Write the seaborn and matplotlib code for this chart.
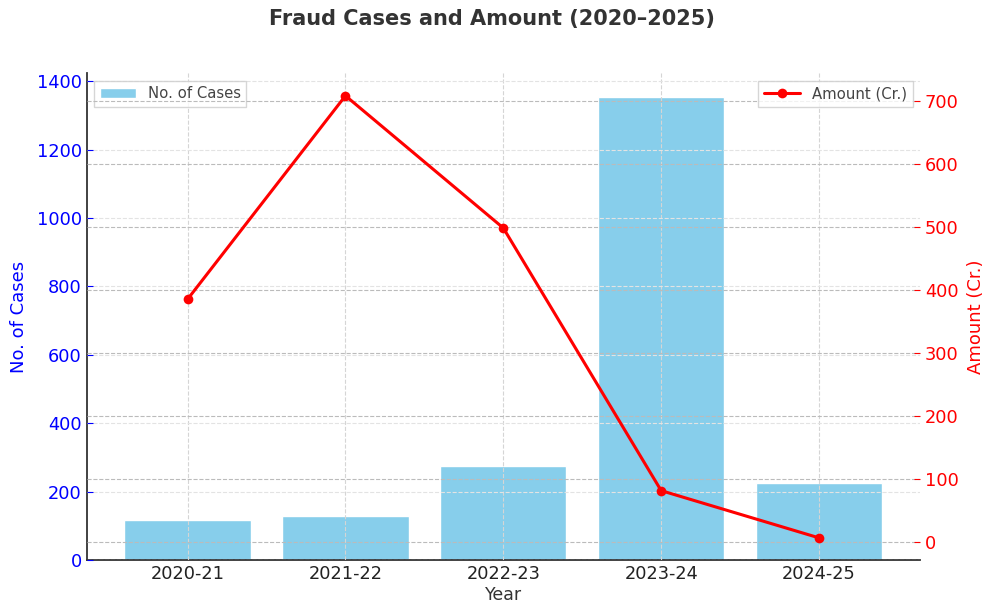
import matplotlib
matplotlib.use("Agg")
import matplotlib.pyplot as plt
import seaborn as sns
import pandas as pd

years = ["2020-21", "2021-22", "2022-23", "2023-24", "2024-25"]
cases = [117, 127, 274, 1355, 224]
amount = [385, 708, 498, 81, 6]

sns.set_style("white")
plt.rcParams["font.family"] = ["DejaVu Sans"]
plt.rcParams["xtick.direction"] = "in"
plt.rcParams["ytick.direction"] = "in"

df = pd.DataFrame({"Year": years, "Cases": cases, "Amount": amount})

fig = plt.figure(figsize=(9.84, 6.04), dpi=100)
ax1 = fig.add_axes([0.088, 0.073, 0.847, 0.806])

sns.barplot(data=df, x="Year", y="Cases", color="#87CEEB", saturation=1,
            width=0.8, ax=ax1, label="No. of Cases", zorder=2)
ax1.set_ylim(0, 1424)
ax1.set_yticks(range(0, 1401, 200))
ax1.set_axisbelow(False)
ax1.grid(axis="y", linestyle="--", color="#e3e3e3", linewidth=0.8)
ax1.grid(axis="x", linestyle="--", color="#d5d5d5", linewidth=0.8)
ax1.set_ylabel("No. of Cases", color="blue", fontsize=13, labelpad=6)
ax1.set_xlabel("Year", fontsize=12.5, color="#333333", labelpad=2)
ax1.tick_params(axis="y", colors="blue", labelsize=12.8, length=4)
ax1.tick_params(axis="x", labelsize=12.8, labelcolor="#222222", color="#333333", length=4)
for s in ["top", "right"]:
    ax1.spines[s].set_visible(False)
for s in ["left", "bottom"]:
    ax1.spines[s].set_color("#333333")
    ax1.spines[s].set_linewidth(1.3)
ax1.legend(loc="upper left", fontsize=10.7, frameon=True, fancybox=False,
           edgecolor="#cccccc", labelcolor="#444444", handlelength=2.4)

ax2 = ax1.twinx()
sns.lineplot(data=df, x="Year", y="Amount", color="red", marker="o",
             markersize=7, markeredgewidth=0, linewidth=2.2, ax=ax2,
             label="Amount (Cr.)")
ax2.set_ylim(-29, 744)
ax2.set_yticks(range(0, 701, 100))
ax2.grid(True, linestyle="--", color="#bbbbbb", linewidth=0.8)
ax2.set_ylabel("Amount (Cr.)", color="red", fontsize=13, labelpad=6)
ax2.tick_params(axis="y", colors="red", labelsize=12.8, length=4)
for s in ["top", "right", "left", "bottom"]:
    ax2.spines[s].set_visible(False)
ax2.legend(loc="upper right", fontsize=10.7, frameon=True, fancybox=False,
           edgecolor="#cccccc", labelcolor="#444444", handlelength=2.4)

fig.suptitle("Fraud Cases and Amount (2020\u20132025)", fontsize=15,
             fontweight="bold", color="#333333", y=0.985)

fig.savefig("out.png", dpi=100)
